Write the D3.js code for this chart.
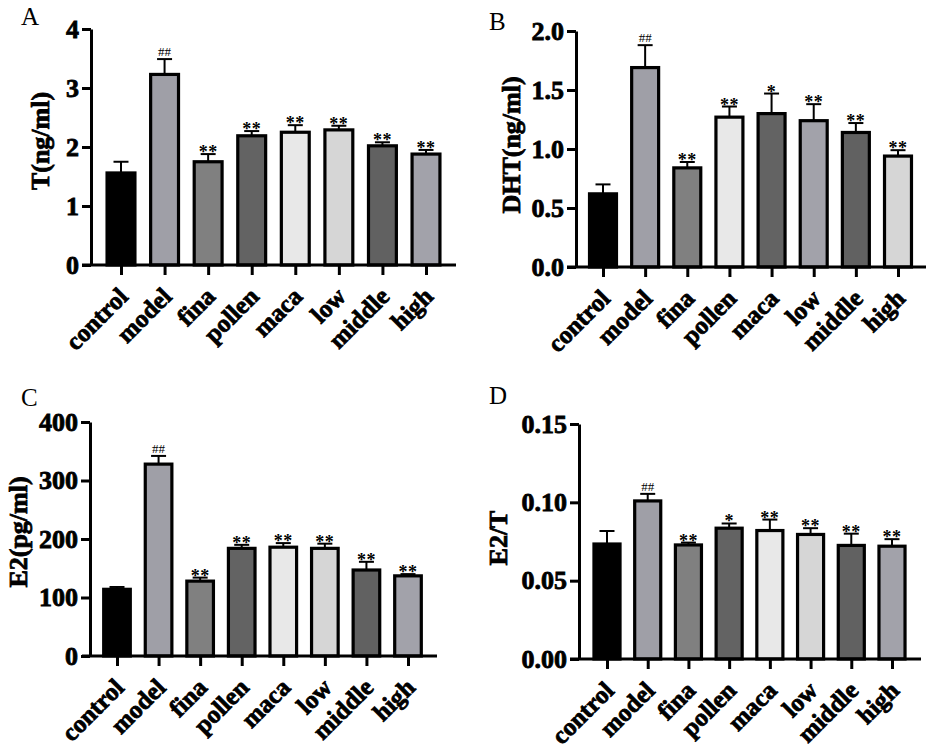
<!DOCTYPE html>
<html>
<head>
<meta charset="utf-8">
<script src="https://cdn.jsdelivr.net/npm/d3@7"></script>
<style>
  html, body { margin: 0; padding: 0; background: #fff; }
  svg { display: block; }
</style>
</head>
<body>
<script>
// groups shared by all four panels
const groups = ["control", "model", "fina", "pollen", "maca", "low", "middle", "high"];

// A: T (ng/ml)
const tMean = [1.56, 3.23, 1.75, 2.19, 2.25, 2.29, 2.02, 1.88];
const tSd   = [0.19, 0.26, 0.13, 0.08, 0.12, 0.07, 0.06, 0.07];
const tSig  = ["", "##", "**", "**", "**", "**", "**", "**"];
const tTicks = [0, 1, 2, 3, 4];

// B: DHT (ng/ml)
const dhtMean = [0.62, 1.69, 0.84, 1.27, 1.30, 1.24, 1.14, 0.94];
const dhtSd   = [0.08, 0.19, 0.05, 0.09, 0.17, 0.14, 0.08, 0.05];
const dhtSig  = ["", "##", "**", "**", "*", "**", "**", "**"];
const dhtTicks = [0, 0.5, 1.0, 1.5, 2.0];

// C: E2 (pg/ml)
const e2Mean = [114, 328, 128, 184, 186, 184, 147, 137];
const e2Sd   = [4, 14, 6, 6, 7, 8, 14, 3];
const e2Sig  = ["", "##", "**", "**", "**", "**", "**", "**"];
const e2Ticks = [0, 100, 200, 300, 400];

// D: E2/T
const ratioMean = [0.0734, 0.1009, 0.0728, 0.0835, 0.0820, 0.0795, 0.0725, 0.0720];
const ratioSd   = [0.0083, 0.0045, 0.0015, 0.0030, 0.0070, 0.0040, 0.0075, 0.0045];
const ratioSig  = ["", "##", "**", "*", "**", "**", "**", "**"];
const ratioTicks = [0, 0.05, 0.10, 0.15];

// bar fills
const fillsACD = ["#000000", "#9f9fa7", "#808080", "#636363", "#e8e8e8", "#d6d6d6", "#616161", "#a2a2aa"];
const fillsB   = ["#000000", "#9f9fa7", "#808080", "#e8e8e8", "#636363", "#a2a2aa", "#616161", "#d6d6d6"];

const serif = "'Liberation Serif', 'Times New Roman', serif";

const panels = [
  { letter: "A", lx: 21, ly: 25, title: "T(ng/ml)", tx: 49, ty: 141,
    mean: tMean, sd: tSd, sig: tSig, ticks: tTicks, fmt: d3.format("d"), max: 4, fills: fillsACD,
    axisX: 91, xStart: 82, xEnd: 456, yTop: 29, yZero: 265, c0: 121, c1: 426 },
  { letter: "B", lx: 489, ly: 30, title: "DHT(ng/ml)", tx: 520, ty: 145,
    mean: dhtMean, sd: dhtSd, sig: dhtSig, ticks: dhtTicks, fmt: d3.format(".1f"), max: 2, fills: fillsB,
    axisX: 576, xStart: 567, xEnd: 926, yTop: 31, yZero: 267, c0: 603, c1: 898 },
  { letter: "C", lx: 21, ly: 406, title: "E2(pg/ml)", tx: 27, ty: 532,
    mean: e2Mean, sd: e2Sd, sig: e2Sig, ticks: e2Ticks, fmt: d3.format("d"), max: 400, fills: fillsACD,
    axisX: 90, xStart: 82, xEnd: 437, yTop: 422, yZero: 656, c0: 117, c1: 408 },
  { letter: "D", lx: 489, ly: 404, title: "E2/T", tx: 507, ty: 538,
    mean: ratioMean, sd: ratioSd, sig: ratioSig, ticks: ratioTicks, fmt: d3.format(".2f"), max: 0.15, fills: fillsACD,
    axisX: 579, xStart: 570, xEnd: 921, yTop: 424, yZero: 659, c0: 607, c1: 892 }
];

const svg = d3.select("body").append("svg")
  .attr("width", 935)
  .attr("height", 750)
  .style("font-family", serif);

// heavy text, like the exported figure
function heavy(sel) {
  sel.attr("font-family", serif)
    .attr("font-weight", "bold")
    .attr("fill", "#000")
    .attr("stroke", "#000")
    .attr("stroke-width", 0.8);
}

panels.forEach(p => {
  const g = svg.append("g");

  const y = d3.scaleLinear().domain([0, p.max]).range([p.yZero, p.yTop]);
  const x = d3.scalePoint().domain(groups).range([p.c0, p.c1]);
  const barW = x.step() * 0.64;

  // panel letter
  g.append("text")
    .attr("x", p.lx).attr("y", p.ly)
    .attr("font-size", 25)
    .text(p.letter);

  // y title
  g.append("text")
    .attr("transform", `translate(${p.tx},${p.ty}) rotate(-90)`)
    .attr("text-anchor", "middle")
    .attr("font-size", 26)
    .call(heavy)
    .text(p.title);

  // bars
  g.selectAll("rect.bar")
    .data(groups)
    .join("rect")
    .attr("class", "bar")
    .attr("x", d => x(d) - barW / 2)
    .attr("width", barW)
    .attr("y", (d, i) => y(p.mean[i]))
    .attr("height", (d, i) => p.yZero - y(p.mean[i]))
    .attr("fill", (d, i) => p.fills[i])
    .attr("stroke", "#000")
    .attr("stroke-width", 3.2);

  // error bars (upper only)
  const capW = 15;
  groups.forEach((d, i) => {
    const top = y(p.mean[i] + p.sd[i]);
    const cx = x(d);
    g.append("line")
      .attr("x1", cx).attr("x2", cx)
      .attr("y1", y(p.mean[i])).attr("y2", top)
      .attr("stroke", "#000").attr("stroke-width", 2);
    g.append("line")
      .attr("x1", cx - capW / 2).attr("x2", cx + capW / 2)
      .attr("y1", top).attr("y2", top)
      .attr("stroke", "#000").attr("stroke-width", 2);

    const s = p.sig[i];
    if (s === "##") {
      g.append("text")
        .attr("x", cx).attr("y", top - 3)
        .attr("text-anchor", "middle")
        .attr("font-size", 13)
        .text(s);
    } else if (s) {
      g.append("text")
        .attr("x", cx).attr("y", top + 4)
        .attr("text-anchor", "middle")
        .attr("font-size", 18)
        .attr("font-weight", "bold")
        .attr("letter-spacing", 0.5)
        .text(s);
    }
  });

  // y axis
  const yAxis = g.append("g")
    .attr("transform", `translate(${p.axisX},0)`)
    .call(d3.axisLeft(y).tickValues(p.ticks).tickFormat(p.fmt).tickSize(9).tickSizeOuter(0).tickPadding(3));
  yAxis.select(".domain").attr("stroke-width", 3);
  yAxis.selectAll(".tick line").attr("stroke-width", 3);
  yAxis.selectAll(".tick text")
    .attr("font-size", 26)
    .call(heavy);

  // x axis
  g.append("line")
    .attr("x1", p.xStart).attr("x2", p.xEnd)
    .attr("y1", p.yZero).attr("y2", p.yZero)
    .attr("stroke", "#000").attr("stroke-width", 3);

  const xAxis = g.append("g")
    .attr("transform", `translate(0,${p.yZero})`)
    .call(d3.axisBottom(x).tickSize(10).tickSizeOuter(0));
  xAxis.select(".domain").remove();
  xAxis.selectAll(".tick line").attr("stroke-width", 3);
  xAxis.selectAll(".tick text")
    .attr("font-size", 25)
    .call(heavy)
    .attr("text-anchor", "end")
    .attr("dy", null)
    .attr("y", null)
    .attr("transform", "translate(8,33) rotate(-45)");
});
</script>
</body>
</html>
